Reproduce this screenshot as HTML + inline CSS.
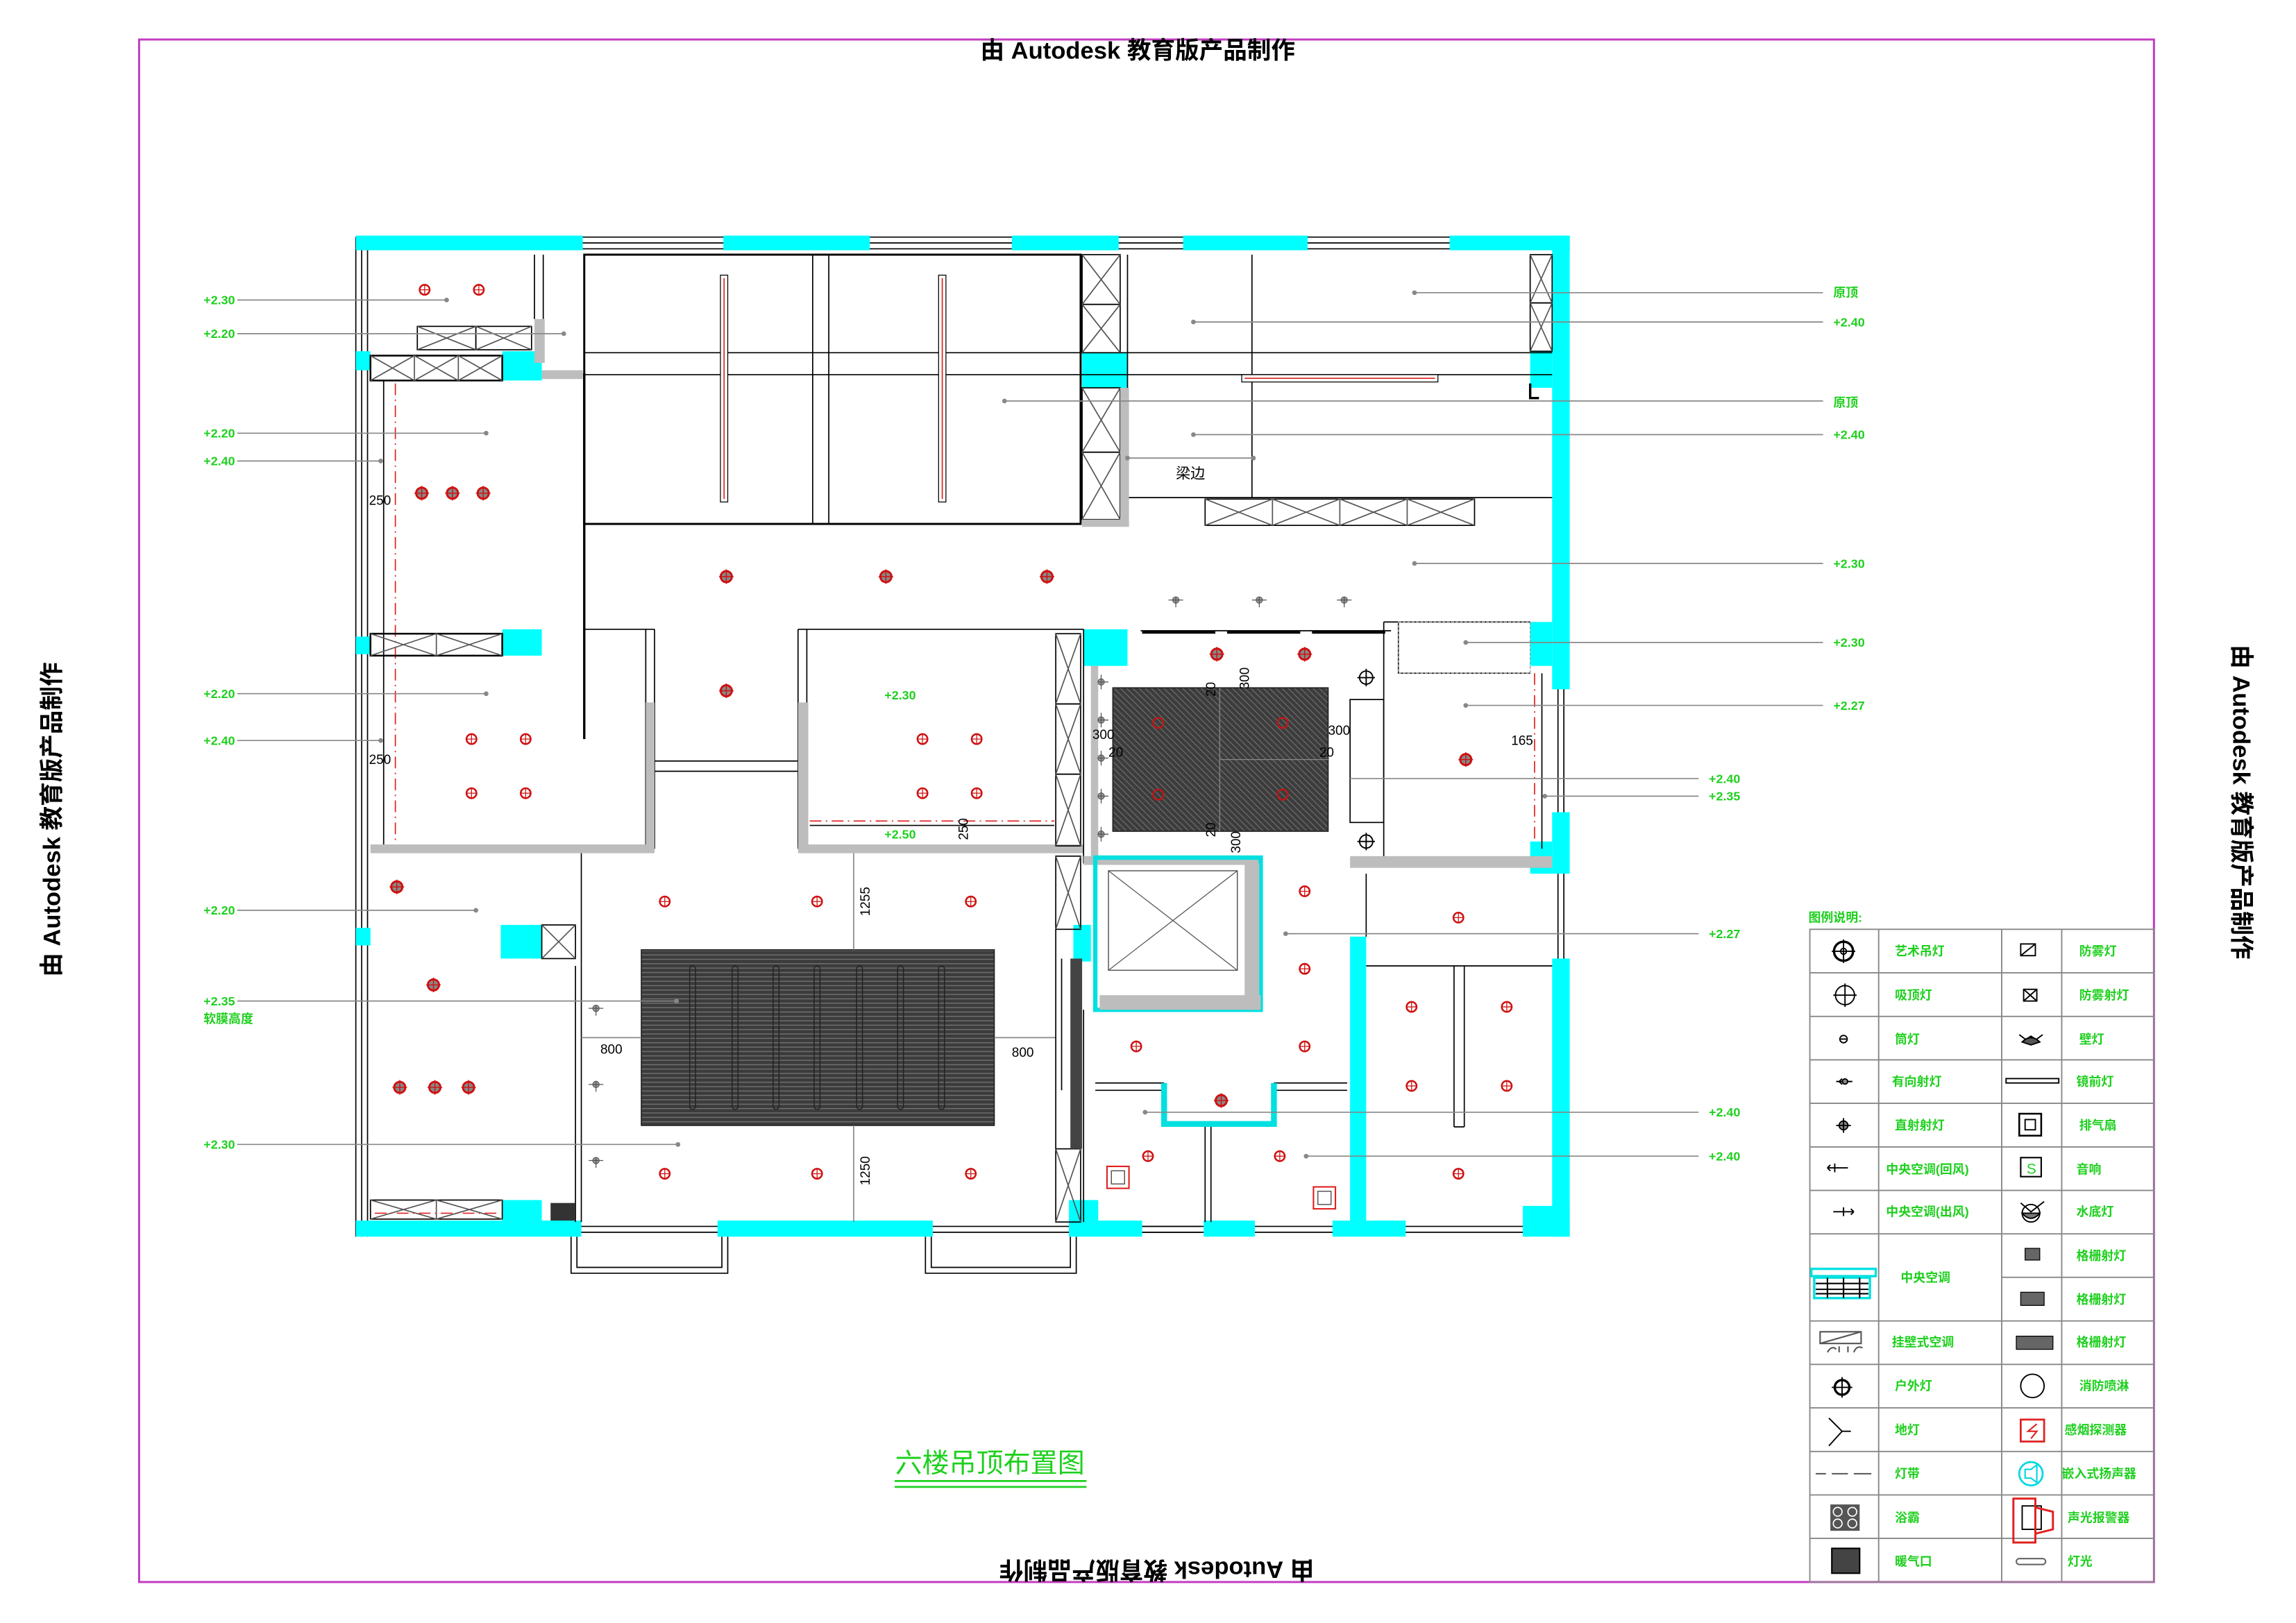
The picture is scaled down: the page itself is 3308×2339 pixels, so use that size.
<!DOCTYPE html>
<html><head><meta charset="utf-8"><style>
html,body{margin:0;padding:0;background:#fff}
svg{display:block}
text{font-family:"Liberation Sans","Noto Sans CJK SC",sans-serif}
.g{fill:#1ed01e;font-weight:bold;font-size:8.5px}
.lg{fill:#1ed01e;font-weight:bold;font-size:8.5px}
.d{fill:#000;font-size:9px;font-family:"Liberation Sans Narrow","Liberation Sans",sans-serif}
.ld{stroke:#888;stroke-width:0.8;fill:none}
.w{stroke:#000;stroke-width:0.8;fill:none}
.c{fill:#00ffff}
.gr{fill:#bdbdbd}
</style></head><body>
<svg width="3308" height="2339" viewBox="0 0 1568 1109" preserveAspectRatio="none" xmlns="http://www.w3.org/2000/svg">
<defs>
<g id="dl"><circle r="3.4" fill="#fff" stroke="#d01010" stroke-width="1.2"/><path d="M-3.4 0H3.4M0 -3.4V3.4" stroke="#d01010" stroke-width="0.6"/></g>
<g id="gd"><circle r="3.8" fill="#888" stroke="#d01010" stroke-width="1.4"/><path d="M-5 0H5M0 -5V5" stroke="#d01010" stroke-width="0.7"/></g>
<g id="dr"><circle r="2.2" fill="#999" stroke="#555" stroke-width="0.5"/><path d="M-5 0H5M0 -2V5" stroke="#555" stroke-width="0.6"/></g>
<pattern id="hat" width="3" height="3" patternUnits="userSpaceOnUse"><rect width="3" height="3" fill="#3c3c3c"/><path d="M0 1.5H3" stroke="#777" stroke-width="0.6"/></pattern>
<pattern id="hat2" width="3" height="3" patternUnits="userSpaceOnUse" patternTransform="rotate(45)"><rect width="3" height="3" fill="#3c3c3c"/><path d="M0 1.5H3" stroke="#666" stroke-width="0.7"/></pattern>
</defs>

<rect x="95" y="27" width="1376" height="1054" fill="none" stroke="#c23bc2" stroke-width="1.4"/>
<text x="777" y="40" text-anchor="middle" font-size="16.4" font-weight="bold">由 Autodesk 教育版产品制作</text>
<text transform="translate(790,1067) rotate(180)" text-anchor="middle" font-size="16.4" font-weight="bold">由 Autodesk 教育版产品制作</text>
<text transform="translate(41,560) rotate(-90)" text-anchor="middle" font-size="16.4" font-weight="bold">由 Autodesk 教育版产品制作</text>
<text transform="translate(1525,548) rotate(90)" text-anchor="middle" font-size="16.4" font-weight="bold">由 Autodesk 教育版产品制作</text>

<g class="w">
<path d="M243 162H1072M243 166H1072M243 170H1072"/>
<path d="M243 162V845M247 162V845M251 162V845"/>
<path d="M1064 470V555M1068 470V555M1064 597V655M1068 597V655"/>
<path d="M243 838H1072M243 842H1072"/>
<path d="M390 845V870H497V845M394 845V866H493V845"/>
<path d="M632 845V870H735V845M636 845V866H731V845"/>
<path d="M780 838H820M780 842H820"/>
</g>
<g class="c">
<rect x="243" y="161" width="155" height="10"/><rect x="494" y="161" width="100" height="10"/>
<rect x="691" y="161" width="73" height="10"/><rect x="808" y="161" width="85" height="10"/>
<rect x="990" y="161" width="82" height="10"/>
<rect x="1060" y="161" width="12" height="310"/><rect x="1060" y="555" width="12" height="42"/>
<rect x="1060" y="655" width="12" height="190"/>
<rect x="243" y="240" width="10" height="13"/><rect x="243" y="435" width="10" height="12"/><rect x="243" y="634" width="10" height="12"/>
<rect x="243" y="834" width="154" height="11"/><rect x="490" y="834" width="147" height="11"/>
<rect x="730" y="834" width="50" height="11"/><rect x="822" y="834" width="35" height="11"/>
<rect x="910" y="834" width="50" height="11"/><rect x="1040" y="824" width="32" height="21"/>
<rect x="343" y="240" width="27" height="20"/><rect x="343" y="430" width="27" height="18"/>
<rect x="739" y="241" width="31" height="24"/><rect x="1045" y="240" width="15" height="25"/>
<rect x="740" y="430" width="30" height="25"/><rect x="1045" y="425" width="15" height="30"/>
<rect x="1045" y="575" width="15" height="22"/><rect x="342" y="632" width="28" height="23"/>
<rect x="922" y="640" width="11" height="195"/><rect x="343" y="820" width="27" height="14"/>
<rect x="733" y="632" width="12" height="25"/><rect x="730" y="820" width="20" height="14"/>
</g>

<g class="w">
<path d="M365 174V218M371 174V218"/>
<rect x="285" y="223" width="40" height="16"/><rect x="325" y="223" width="38" height="16"/>
<path d="M285 223L325 239M325 223L285 239M325 223L363 239M363 223L325 239" stroke="#555"/>
<rect x="253" y="243" width="90" height="17" stroke-width="1.2"/>
<path d="M253 243L283 260M283 243L253 260M283 243L313 260M313 243L283 260M313 243L343 260M343 243L313 260M283 243V260M313 243V260" stroke="#555"/>
<path d="M262 260V580"/>
<path d="M399 255V505" stroke-width="1.6"/>
</g>
<rect x="365" y="218" width="7" height="30" class="gr"/><rect x="370" y="253" width="28" height="6" class="gr"/>
<path d="M270 262V578" stroke="#e02020" stroke-width="0.8" stroke-dasharray="8 3 1 3"/>
<use href="#dl" x="290" y="198"/><use href="#dl" x="327" y="198"/>
<use href="#gd" x="288" y="337"/><use href="#gd" x="309" y="337"/><use href="#gd" x="330" y="337"/>
<text class="d" x="252" y="345">250</text><text class="d" x="252" y="522">250</text>

<g class="w">
<rect x="399" y="174" width="339" height="184" stroke-width="1.4"/>
<path d="M399 241H1060M399 256H1060M555 174V358M566 174V358"/>
<rect x="739" y="174" width="26" height="34"/><rect x="739" y="208" width="26" height="33"/>
<rect x="739" y="265" width="26" height="44"/><rect x="739" y="309" width="26" height="46"/>
<path d="M739 174L765 208M765 174L739 208M739 208L765 241M765 208L739 241M739 265L765 309M765 265L739 309M739 309L765 355M765 309L739 355" stroke="#555"/>
<path d="M770 174V340M855 174V340M770 340H1060"/>
<rect x="1045" y="174" width="15" height="33"/><rect x="1045" y="207" width="15" height="33"/>
<path d="M1045 174L1060 207M1060 174L1045 207M1045 207L1060 240M1060 207L1045 240" stroke="#555"/>
<rect x="823" y="341" width="184" height="18"/>
<path d="M869 341V359M915 341V359M961 341V359M823 341L869 359M869 341L823 359M869 341L915 359M915 341L869 359M915 341L961 359M961 341L915 359M961 341L1007 359M1007 341L961 359" stroke="#555"/>
<path d="M1045 262V272H1051" stroke-width="1.6"/>
</g>
<rect x="765" y="265" width="6" height="94" class="gr"/><rect x="739" y="355" width="32" height="5" class="gr"/>
<rect x="492" y="188" width="5" height="155" fill="#fff" stroke="#000" stroke-width="0.6"/><path d="M494.5 190V341" stroke="#e02020" stroke-width="0.8"/>
<rect x="641" y="188" width="5" height="155" fill="#fff" stroke="#000" stroke-width="0.6"/><path d="M643.5 190V341" stroke="#e02020" stroke-width="0.8"/>
<rect x="848" y="256" width="134" height="5" fill="#fff" stroke="#000" stroke-width="0.6"/><path d="M850 258.5H980" stroke="#e02020" stroke-width="0.8"/>
<path d="M770 313H855" class="ld"/><text x="803" y="327" font-size="10">梁边</text>

<use href="#gd" x="496" y="394"/><use href="#gd" x="605" y="394"/><use href="#gd" x="715" y="394"/><use href="#gd" x="496" y="472"/>
<use href="#dr" x="803" y="410"/><use href="#dr" x="860" y="410"/><use href="#dr" x="918" y="410"/>

<g class="w">
<rect x="253" y="433" width="90" height="15" stroke-width="1.2"/>
<path d="M298 433V448M253 433L298 448M298 433L253 448M298 433L343 448M343 433L298 448" stroke="#555"/>
<path d="M399 430H447M441 430V580M447 430V580"/>
<path d="M447 520H545M447 527H545"/>
<path d="M545 430V580M551 430V580M545 430H740"/>
</g>
<rect x="253" y="577" width="194" height="6" class="gr"/><rect x="441" y="480" width="6" height="100" class="gr"/>
<rect x="545" y="480" width="7" height="100" class="gr"/><rect x="545" y="577" width="195" height="6" class="gr"/>
<use href="#dl" x="322" y="505"/><use href="#dl" x="359" y="505"/><use href="#dl" x="322" y="542"/><use href="#dl" x="359" y="542"/>

<text class="g" x="604" y="478">+2.30</text><text class="g" x="604" y="573">+2.50</text>
<use href="#dl" x="630" y="505"/><use href="#dl" x="667" y="505"/><use href="#dl" x="630" y="542"/><use href="#dl" x="667" y="542"/>
<path d="M553 561H720" stroke="#e02020" stroke-width="0.8" stroke-dasharray="8 3 1 3"/><path d="M553 564H720" class="w"/>
<text class="d" transform="translate(661,574) rotate(-90)">250</text>
<g class="w">
<rect x="721" y="433" width="17" height="48"/><rect x="721" y="481" width="17" height="48"/><rect x="721" y="529" width="17" height="49"/>
<path d="M721 433L738 481M738 433L721 481M721 481L738 529M738 481L721 529M721 529L738 578M738 529L721 578" stroke="#555"/>
</g>

<g class="w">
<path d="M740 430V590M779 431H950" />
<path d="M780 432H830M838 432H888M896 432H946" stroke-width="2"/>
<rect x="922" y="478" width="23" height="84"/>
<path d="M945 425H1045M945 425V590M955 425V460H1045"/>
</g>
<rect x="745" y="455" width="5" height="130" class="gr"/><rect x="740" y="585" width="120" height="6" class="gr"/>
<rect x="955" y="425" width="90" height="35" fill="none" stroke="#999" stroke-width="0.6" stroke-dasharray="2 1"/>
<rect x="760" y="470" width="147" height="98" fill="url(#hat2)" stroke="#222" stroke-width="0.8"/>
<path d="M833 470V568M833 519H907" stroke="#888" stroke-width="0.6"/>
<circle cx="791" cy="494" r="3.5" fill="none" stroke="#d01010" stroke-width="1"/><circle cx="876" cy="494" r="3.5" fill="none" stroke="#d01010" stroke-width="1"/>
<circle cx="791" cy="543" r="3.5" fill="none" stroke="#d01010" stroke-width="1"/><circle cx="876" cy="543" r="3.5" fill="none" stroke="#d01010" stroke-width="1"/>
<text class="d" transform="translate(853,471) rotate(-90)">300</text><text class="d" transform="translate(830,476) rotate(-90)">20</text>
<text class="d" x="746" y="505">300</text><text class="d" x="757" y="517">20</text>
<text class="d" x="907" y="502">300</text><text class="d" x="901" y="517">20</text>
<text class="d" transform="translate(830,572) rotate(-90)">20</text><text class="d" transform="translate(847,583) rotate(-90)">300</text>
<use href="#gd" x="831" y="447"/><use href="#gd" x="891" y="447"/>
<g transform="translate(752,466) rotate(-90)"><use href="#dr"/></g><g transform="translate(752,492) rotate(-90)"><use href="#dr"/></g>
<g transform="translate(752,518) rotate(-90)"><use href="#dr"/></g><g transform="translate(752,544) rotate(-90)"><use href="#dr"/></g>
<g transform="translate(752,570) rotate(-90)"><use href="#dr"/></g>
<g stroke="#000" fill="none" stroke-width="0.9"><circle cx="933" cy="463" r="4.5"/><path d="M927 463H939M933 457V469"/><circle cx="933" cy="575" r="4.5"/><path d="M927 575H939M933 569V581"/></g>
<use href="#gd" x="1001" y="519"/><text class="d" x="1032" y="509">165</text>
<path d="M1048 460V575" stroke="#e02020" stroke-width="0.8" stroke-dasharray="8 3 1 3"/>
<path d="M1053 460V580" class="w"/>
<rect x="922" y="585" width="138" height="8" class="gr"/>

<rect x="748" y="586" width="113" height="104" fill="none" stroke="#00e0e0" stroke-width="3"/>
<rect x="751" y="680" width="110" height="10" class="gr"/>
<rect x="757" y="595" width="88" height="68" fill="none" stroke="#555" stroke-width="0.7"/>
<path d="M757 595L845 663M845 595L757 663" stroke="#555" stroke-width="0.6"/>
<rect x="850" y="590" width="10" height="100" class="gr"/>
<use href="#dl" x="891" y="609"/><use href="#dl" x="891" y="662"/><use href="#dl" x="891" y="715"/>
<use href="#dl" x="776" y="715"/><use href="#gd" x="834" y="752"/><use href="#dl" x="784" y="790"/><use href="#dl" x="874" y="790"/>
<g class="w"><path d="M748 740H795M748 745H795M870 740H920M870 745H920M823 768V835M827 768V835M740 690V835"/></g>
<path d="M795 740V768H870V740" fill="none" stroke="#00e0e0" stroke-width="4"/>
<g><rect x="756" y="797" width="15" height="15" fill="#fff" stroke="#e02020" stroke-width="1"/><rect x="759" y="800" width="9" height="9" fill="none" stroke="#555" stroke-width="0.7"/><rect x="897" y="811" width="15" height="15" fill="#fff" stroke="#e02020" stroke-width="1"/><rect x="900" y="814" width="9" height="9" fill="none" stroke="#555" stroke-width="0.7"/></g>

<g class="w"><path d="M933 597V640M933 660H1060M993 660V770M1000 660V770M993 770H1000"/></g>
<use href="#dl" x="996" y="627"/><use href="#dl" x="964" y="688"/><use href="#dl" x="1029" y="688"/>
<use href="#dl" x="964" y="742"/><use href="#dl" x="1029" y="742"/><use href="#dl" x="996" y="802"/>

<g class="w">
<path d="M397 583V835M393 660V835"/>
<rect x="370" y="632" width="23" height="23"/><path d="M370 632L393 655M393 632L370 655" stroke="#555"/>
<rect x="253" y="820" width="90" height="13"/>
<path d="M253 820L298 833M298 820L253 833M298 820L343 833M343 820L298 833M298 820V833" stroke="#555"/>
</g>
<path d="M256 829H340" stroke="#e02020" stroke-width="0.8" stroke-dasharray="8 3 1 3"/>
<rect x="376" y="822" width="17" height="12" fill="#333"/>
<use href="#gd" x="271" y="606"/><use href="#gd" x="296" y="673"/>
<use href="#gd" x="273" y="743"/><use href="#gd" x="297" y="743"/><use href="#gd" x="320" y="743"/>

<rect x="438" y="649" width="241" height="120" fill="url(#hat)" stroke="#222" stroke-width="0.8"/>
<g fill="none" stroke="#222" stroke-width="0.7">
<rect x="471" y="660" width="4" height="98" rx="2"/><rect x="500" y="660" width="4" height="98" rx="2"/><rect x="528" y="660" width="4" height="98" rx="2"/>
<rect x="556" y="660" width="4" height="98" rx="2"/><rect x="585" y="660" width="4" height="98" rx="2"/><rect x="613" y="660" width="4" height="98" rx="2"/><rect x="641" y="660" width="4" height="98" rx="2"/>
</g>
<use href="#dl" x="454" y="616"/><use href="#dl" x="558" y="616"/><use href="#dl" x="663" y="616"/>
<use href="#dl" x="454" y="802"/><use href="#dl" x="558" y="802"/><use href="#dl" x="663" y="802"/>
<use href="#dr" x="407" y="689"/><use href="#dr" x="407" y="741"/><use href="#dr" x="407" y="793"/>
<path d="M583 583V649M583 769V835M397 709H438M679 709H721" class="ld"/>
<text class="d" transform="translate(594,626) rotate(-90)">1255</text><text class="d" transform="translate(594,810) rotate(-90)">1250</text>
<text class="d" x="410" y="720">800</text><text class="d" x="691" y="722">800</text>
<g class="w">
<rect x="721" y="585" width="17" height="50"/><rect x="721" y="785" width="17" height="50"/>
<path d="M721 585L738 635M738 585L721 635M721 785L738 835M738 785L721 835" stroke="#555"/>
<path d="M721 635V785M725 655V745"/>
</g>
<rect x="731" y="655" width="8" height="130" fill="#444"/>

<g class="ld">
<path d="M162 205H305M162 228H385M162 296H332M162 315H260M162 474H332M162 506H260M162 622H325M162 684H462M162 782H463"/>
</g>
<g fill="#888"><circle cx="305" cy="205" r="1.6"/><circle cx="385" cy="228" r="1.6"/><circle cx="332" cy="296" r="1.6"/><circle cx="260" cy="315" r="1.6"/><circle cx="332" cy="474" r="1.6"/><circle cx="260" cy="506" r="1.6"/><circle cx="325" cy="622" r="1.6"/><circle cx="462" cy="684" r="1.6"/><circle cx="463" cy="782" r="1.6"/></g>
<text class="g" x="139" y="208">+2.30</text><text class="g" x="139" y="231">+2.20</text>
<text class="g" x="139" y="299">+2.20</text><text class="g" x="139" y="318">+2.40</text>
<text class="g" x="139" y="477">+2.20</text><text class="g" x="139" y="509">+2.40</text>
<text class="g" x="139" y="625">+2.20</text><text class="g" x="139" y="687">+2.35</text>
<text class="g" x="139" y="699" font-size="10">软膜高度</text><text class="g" x="139" y="785">+2.30</text>
<g class="ld">
<path d="M966 200H1245M815 220H1245M686 274H1245M815 297H1245M966 385H1245M1001 439H1245M1001 482H1245M922 532H1160M1055 544H1160M878 638H1160M782 760H1160M892 790H1160"/>
</g>
<g fill="#888"><circle cx="966" cy="200" r="1.6"/><circle cx="815" cy="220" r="1.6"/><circle cx="686" cy="274" r="1.6"/><circle cx="815" cy="297" r="1.6"/><circle cx="966" cy="385" r="1.6"/><circle cx="1001" cy="439" r="1.6"/><circle cx="1001" cy="482" r="1.6"/><circle cx="1055" cy="544" r="1.6"/><circle cx="878" cy="638" r="1.6"/><circle cx="782" cy="760" r="1.6"/><circle cx="892" cy="790" r="1.6"/><circle cx="856" cy="313" r="1.6"/><circle cx="770" cy="313" r="1.6"/></g>
<text class="g" x="1252" y="203">原顶</text><text class="g" x="1252" y="223">+2.40</text>
<text class="g" x="1252" y="278">原顶</text><text class="g" x="1252" y="300">+2.40</text>
<text class="g" x="1252" y="388">+2.30</text><text class="g" x="1252" y="442">+2.30</text>
<text class="g" x="1252" y="485">+2.27</text><text class="g" x="1167" y="535">+2.40</text>
<text class="g" x="1167" y="547">+2.35</text><text class="g" x="1167" y="641">+2.27</text>
<text class="g" x="1167" y="763">+2.40</text><text class="g" x="1167" y="793">+2.40</text>

<text x="676" y="1006" text-anchor="middle" font-size="18.5" fill="#1ed01e" font-family="'Noto Serif CJK SC','Liberation Serif',serif">六楼吊顶布置图</text>
<path d="M611 1012H742M611 1016H742" stroke="#1ed01e" stroke-width="1.3"/>

<text class="lg" x="1235" y="630">图例说明:</text>
<g stroke="#888" stroke-width="0.9" fill="none">
<rect x="1236" y="635" width="235" height="446"/>
<path d="M1283 635V1081M1367 635V1081M1408 635V1081"/>
<path d="M1236 664.7H1471M1236 694.5H1471M1236 724.2H1471M1236 753.9H1471M1236 783.7H1471M1236 813.4H1471M1236 843.1H1471M1367 872.8H1471M1236 902.6H1471M1236 932.3H1471M1236 962H1471M1236 991.8H1471M1236 1021.5H1471M1236 1051.2H1471"/>
</g>
<g class="lg">
<text x="1294" y="653">艺术吊灯</text><text x="1294" y="683">吸顶灯</text><text x="1294" y="713">筒灯</text>
<text x="1292" y="742">有向射灯</text><text x="1294" y="772">直射射灯</text><text x="1288" y="802">中央空调(回风)</text>
<text x="1288" y="831">中央空调(出风)</text><text x="1298" y="876">中央空调</text><text x="1292" y="920">挂壁式空调</text>
<text x="1294" y="950">户外灯</text><text x="1294" y="980">地灯</text><text x="1294" y="1010">灯带</text>
<text x="1294" y="1040">浴霸</text><text x="1294" y="1070">暖气口</text>
<text x="1420" y="653">防雾灯</text><text x="1420" y="683">防雾射灯</text><text x="1420" y="713">壁灯</text>
<text x="1418" y="742">镜前灯</text><text x="1420" y="772">排气扇</text><text x="1418" y="802">音响</text>
<text x="1418" y="831">水底灯</text><text x="1418" y="861">格栅射灯</text><text x="1418" y="891">格栅射灯</text>
<text x="1418" y="920">格栅射灯</text><text x="1420" y="950">消防喷淋</text><text x="1410" y="980">感烟探测器</text>
<text x="1408" y="1010">嵌入式扬声器</text><text x="1412" y="1040">声光报警器</text><text x="1412" y="1070">灯光</text>
</g>
<g stroke="#000" fill="none" stroke-width="0.9">
<circle cx="1259" cy="650" r="6.5" stroke-width="1.6"/><path d="M1251 650H1267M1259 642V658"/><circle cx="1259" cy="650" r="2"/>
<circle cx="1260" cy="680" r="6.5"/><path d="M1252 680H1268M1260 672V688"/>
<circle cx="1259" cy="710" r="2.5"/><path d="M1257 710H1261"/>
<path d="M1254 739H1265M1256 739l2 -2M1256 739l2 2"/><circle cx="1260" cy="739" r="1.8" fill="#888"/>
<circle cx="1259" cy="769" r="3" fill="#888"/><path d="M1254 769H1264M1259 764V774"/>
<path d="M1248 798H1262M1253 795V801M1248 798l2-2M1248 798l2 2"/>
<path d="M1252 828H1266M1259 825V831M1266 828l-2-2M1266 828l-2 2"/>
<circle cx="1258" cy="948" r="5" stroke-width="1.6"/><path d="M1251 948H1265M1258 941V955"/>
<path d="M1249 969L1258 978L1249 988M1258 978H1264"/>
<path d="M1240 1007H1247M1251 1007H1262M1266 1007H1278" stroke="#555"/>
<rect x="1380" y="645" width="10" height="8"/><path d="M1380 653L1390 645"/>
<rect x="1382" y="676" width="9" height="8"/><path d="M1382 676L1391 684M1391 676L1382 684"/>
<path d="M1379 707L1387 713L1395 707M1381 712L1387 708L1393 712" /><path d="M1381 712Q1387 706 1393 712L1387 714Z" fill="#555"/>
<rect x="1370" y="737" width="36" height="3"/>
<rect x="1379" y="761" width="15" height="15" stroke-width="1.2"/><rect x="1383" y="765" width="7" height="7"/>
<circle cx="1387" cy="829" r="6"/><path d="M1381 829Q1387 836 1393 829Z" fill="#777"/><path d="M1380 822L1387 828L1396 821"/>
<circle cx="1388" cy="947" r="8"/>
<rect x="1381" y="1029" width="13" height="16"/>
</g>
<rect x="1380" y="791" width="14" height="13" fill="none" stroke="#000"/><text x="1384" y="802" font-size="10" fill="#1ed01e">S</text>
<rect x="1383" y="853" width="10" height="8" fill="#666" stroke="#000" stroke-width="0.6"/>
<rect x="1380" y="883" width="16" height="9" fill="#666" stroke="#000" stroke-width="0.6"/>
<rect x="1377" y="913" width="25" height="9" fill="#666" stroke="#000" stroke-width="0.6"/>
<rect x="1380" y="970" width="16" height="15" fill="none" stroke="#e02020" stroke-width="1.3"/><path d="M1391 973L1385 978H1391L1387 983" stroke="#e02020" fill="none"/>
<circle cx="1387" cy="1007" r="8" fill="none" stroke="#00d8e0" stroke-width="1.3"/><path d="M1383 1004h4l4-3v12l-4-3h-4z" fill="none" stroke="#00d8e0"/>
<rect x="1375" y="1024" width="15" height="30" fill="none" stroke="#e02020" stroke-width="1.4"/><path d="M1390 1030l12 3v12l-12 3" fill="none" stroke="#e02020" stroke-width="1.4"/>
<rect x="1377" y="1065" width="20" height="4" rx="2" fill="none" stroke="#666"/>
<rect x="1237" y="867" width="44" height="5" fill="none" stroke="#00e0e0" stroke-width="1.6"/>
<rect x="1239" y="873" width="38" height="14" fill="none" stroke="#00e0e0" stroke-width="1.6"/>
<path d="M1240 877H1276M1240 881H1276M1240 884H1276M1248 873V887M1259 873V887M1270 873V887" stroke="#000" stroke-width="1"/>
<rect x="1243" y="910" width="28" height="8" fill="none" stroke="#555"/><path d="M1243 918L1271 910M1248 924q3-5 6-2M1256 924v-4M1262 924v-4M1266 924q2-5 6-3" stroke="#555" fill="none"/>
<rect x="1250" y="1028" width="20" height="18" fill="#555"/><g fill="none" stroke="#fff" stroke-width="0.8"><circle cx="1255" cy="1033" r="3"/><circle cx="1265" cy="1033" r="3"/><circle cx="1255" cy="1041" r="3"/><circle cx="1265" cy="1041" r="3"/></g>
<rect x="1251" y="1058" width="19" height="17" fill="#444" stroke="#000"/>
</svg>
</body></html>
